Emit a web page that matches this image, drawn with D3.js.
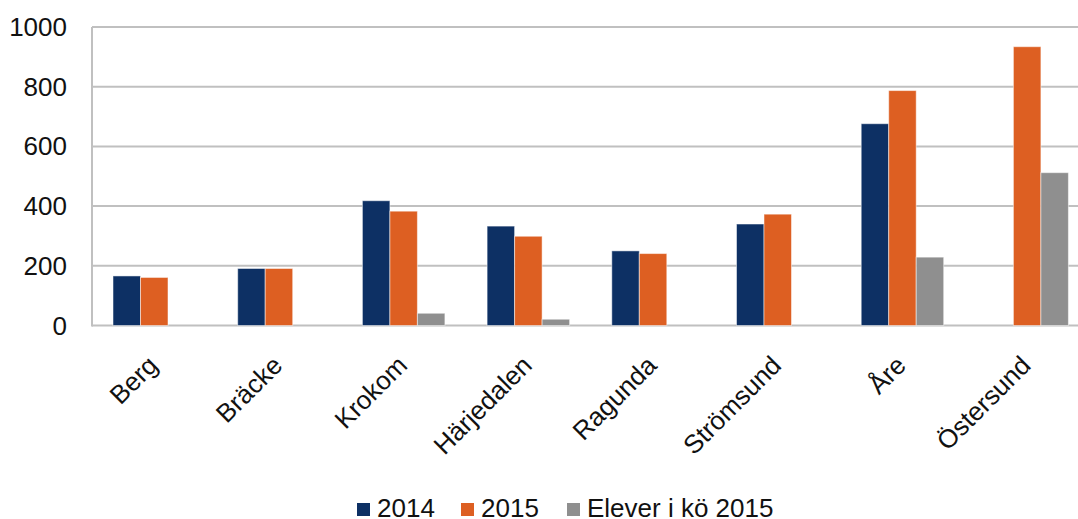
<!DOCTYPE html>
<html>
<head>
<meta charset="utf-8">
<script src="https://cdn.jsdelivr.net/npm/d3@7"></script>
<style>
  body { margin: 0; background: #fff; }
  svg { font-family: "Liberation Sans", Arial, sans-serif; }
</style>
</head>
<body>
<svg id="chart" width="1078" height="519"></svg>
<script>
// kommuner
const kommuner = ["Berg", "Bräcke", "Krokom", "Härjedalen", "Ragunda", "Strömsund", "Åre", "Östersund"];
const serier = ["2014", "2015", "Elever i kö 2015"];
const v2014 = [166, 191, 418, 333, 250, 340, 676, 0];
const v2015 = [161, 191, 383, 299, 241, 373, 787, 934];
const ko2015 = [0, 0, 41, 21, 0, 0, 229, 512];
const yTicks = [0, 200, 400, 600, 800, 1000];
const farger = ["#0d3064", "#dd5f22", "#8f8f8f"];

const svg = d3.select("#chart");
// plotytan fortsätter lite utanför bilden till höger
const m = { left: 92, right: 1089.6, top: 27, bottom: 325.5 };

const x = d3.scaleBand().domain(kommuner).range([m.left, m.right]);
const xs = d3.scaleBand().domain(serier).range([21, 21 + 82.5]);
const y = d3.scaleLinear().domain([0, 1000]).range([m.bottom, m.top]);

// rutnät
svg.append("g")
  .selectAll("line")
  .data(yTicks)
  .join("line")
  .attr("x1", m.left).attr("x2", 1078)
  .attr("y1", d => y(d)).attr("y2", d => y(d))
  .attr("stroke", "#c0c0c0")
  .attr("stroke-width", 2);

svg.append("line")
  .attr("x1", m.left).attr("x2", m.left)
  .attr("y1", m.top).attr("y2", m.bottom + 1)
  .attr("stroke", "#c0c0c0")
  .attr("stroke-width", 2);

svg.append("g")
  .selectAll("text")
  .data(yTicks)
  .join("text")
  .attr("x", 67)
  .attr("y", d => y(d) + 9)
  .attr("text-anchor", "end")
  .attr("font-size", 26)
  .attr("fill", "#111")
  .text(d => d);

const rader = kommuner.map((k, i) => ({ k, vals: [v2014[i], v2015[i], ko2015[i]] }));

const grupp = svg.append("g")
  .selectAll("g")
  .data(rader)
  .join("g")
  .attr("transform", d => `translate(${x(d.k)},0)`);

grupp.selectAll("rect")
  .data(d => d.vals.map((v, j) => ({ s: serier[j], v, j })).filter(d => d.v > 0))
  .join("rect")
  .attr("x", d => xs(d.s))
  .attr("width", xs.bandwidth())
  .attr("y", d => y(d.v))
  .attr("height", d => y(0) - y(d.v))
  .attr("fill", d => farger[d.j])
  .attr("stroke", "rgba(255,255,255,0.5)")
  .attr("stroke-width", 1);

// kategorietiketter
svg.append("g")
  .selectAll("text")
  .data(kommuner)
  .join("text")
  .attr("transform", d => `translate(${x(d) + x.bandwidth() / 2 + 5},367) rotate(-45)`)
  .attr("text-anchor", "end")
  .attr("font-size", 26)
  .attr("fill", "#111")
  .text(d => d);

// legend
const legendPos = [357, 461, 567];
const leg = svg.append("g")
  .selectAll("g")
  .data(serier)
  .join("g")
  .attr("transform", (d, i) => `translate(${legendPos[i]},503)`);

leg.append("rect")
  .attr("width", 13).attr("height", 13)
  .attr("fill", (d, i) => farger[i]);

leg.append("text")
  .attr("x", 20)
  .attr("y", 13.5)
  .attr("font-size", 26)
  .attr("fill", "#111")
  .text(d => d);
</script>
</body>
</html>
